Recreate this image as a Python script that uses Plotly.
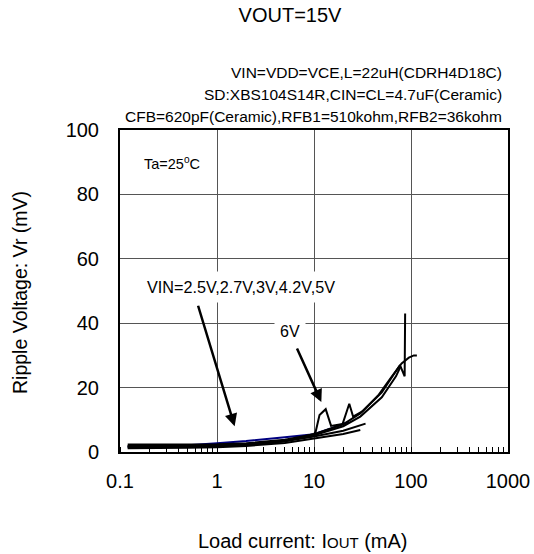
import math
import plotly.graph_objects as go

# ---- data (load current mA, ripple mV) ----
x_25 = [0.12, 0.2, 0.5, 1, 2, 5, 10, 20, 30]
y_25 = [1.2, 1.2, 1.3, 1.5, 1.9, 2.8, 4.2, 5.6, 6.8]
x_27 = [0.12, 0.2, 0.5, 1, 2, 5, 10, 20, 34]
y_27 = [1.5, 1.5, 1.6, 1.8, 2.2, 3.3, 4.8, 6.6, 8.8]
x_30 = [0.12, 0.2, 0.5, 1, 2, 5, 10, 15, 20, 30, 50, 70, 78]
y_30 = [1.9, 1.9, 2.0, 2.1, 2.4, 3.5, 5.2, 6.8, 8.0, 11.0, 17.0, 23.5, 26.5]
x_42 = [0.12, 0.2, 0.5, 1, 2, 5, 10, 15, 20, 30, 50, 77, 86, 87]
y_42 = [2.3, 2.3, 2.3, 2.4, 2.7, 3.8, 5.5, 7.2, 8.6, 12.0, 18.5, 27.0, 23.5, 43.0]
x_50 = [0.12, 0.2, 0.5, 1, 2, 5, 10, 15, 23]
y_50 = [1.6, 1.7, 2.1, 2.7, 3.4, 4.6, 5.5, 7.3, 9.4]
x_60 = [0.12, 0.2, 0.5, 1, 2, 5, 10, 10.4, 11.4, 13.2, 15, 19.7, 23.1, 25.3,
        31.5, 46.6, 63.6, 80, 95, 107, 115]
y_60 = [1.8, 1.8, 1.8, 1.9, 2.2, 3.3, 5.6, 6.3, 11.5, 13.3, 8.1, 8.7, 15.0, 11.0,
        12.6, 17.8, 23.5, 27.5, 29.3, 30.0, 30.0]

x_ticks = [0.1, 1, 10, 100, 1000]
x_tick_labels = ["0.1", "1", "10", "100", "1000"]
y_ticks = [0, 20, 40, 60, 80, 100]

FONT = "Liberation Sans, Arial, sans-serif"

fig = go.Figure()
fig.add_trace(go.Scatter(x=x_50, y=y_50, mode="lines",
                         line=dict(color="#000080", width=2), name="5V"))
for xs, ys, nm in [(x_25, y_25, "2.5V"), (x_27, y_27, "2.7V"), (x_30, y_30, "3V"),
                   (x_42, y_42, "4.2V"), (x_60, y_60, "6V")]:
    fig.add_trace(go.Scatter(x=xs, y=ys, mode="lines",
                             line=dict(color="black", width=2), name=nm))

fig.update_layout(
    width=534, height=554,
    margin=dict(l=120, r=26, t=130, b=102),
    paper_bgcolor="white", plot_bgcolor="white",
    showlegend=False,
    font=dict(family=FONT, color="black"),
    title=dict(text="VOUT=15V", x=290 / 534, xanchor="center",
               y=1 - 15 / 554, yanchor="middle", yref="container",
               font=dict(size=20, family=FONT, color="black")),
)

fig.update_xaxes(
    type="log", range=[-1, 3], automargin=False,
    tickvals=x_ticks, ticktext=x_tick_labels,
    ticks="", tickfont=dict(size=20, family=FONT),
    ticklabelstandoff=10,
    showgrid=True, gridcolor="#555555", gridwidth=1,
    showline=True, linecolor="black", linewidth=2, mirror=True,
    minor=dict(ticks="inside", ticklen=5, tickcolor="black", tickwidth=1,
               dtick="D1", showgrid=False),
    zeroline=False,
)
fig.update_yaxes(
    range=[0, 100], tickvals=y_ticks, automargin=False,
    ticks="", tickfont=dict(size=20, family=FONT),
    ticklabelstandoff=15,
    showgrid=True, gridcolor="#555555", gridwidth=1,
    showline=True, linecolor="black", linewidth=2, mirror=True,
    zeroline=False,
)

def px2paper_x(px):
    return (px - 120) / 388

def py2paper_y(py):
    return (452 - py) / 322

header = ["VIN=VDD=VCE,L=22uH(CDRH4D18C)",
          "SD:XBS104S14R,CIN=CL=4.7uF(Ceramic)",
          "CFB=620pF(Ceramic),RFB1=510kohm,RFB2=36kohm"]
for i, t in enumerate(header):
    fig.add_annotation(text=t, xref="paper", yref="paper",
                       x=px2paper_x(504), y=py2paper_y(72 + 22 * i),
                       xanchor="right", yanchor="middle", showarrow=False,
                       font=dict(size=15.5, family=FONT, color="black"))

# axis titles
fig.add_annotation(text="Load current: I<span style='font-size:15px'>OUT</span> (mA)",
                   xref="paper", yref="paper",
                   x=px2paper_x(303), y=py2paper_y(541),
                   xanchor="center", yanchor="middle", showarrow=False,
                   font=dict(size=20, family=FONT, color="black"))
fig.add_annotation(text="Ripple Voltage: Vr (mV)", textangle=-90,
                   xref="paper", yref="paper",
                   x=px2paper_x(20), y=py2paper_y(293),
                   xanchor="center", yanchor="middle", showarrow=False,
                   font=dict(size=19.5, family=FONT, color="black"))

# in-plot labels
fig.add_annotation(text="Ta=25<sup>o</sup>C", xref="x", yref="y",
                   x=math.log10(0.34), y=89.7, showarrow=False,
                   font=dict(size=14.5, family=FONT, color="black"))

# arrows
fig.add_annotation(text="", xref="x", yref="y", x=math.log10(1.52), y=8.0,
                   ax=-37, ay=-122, showarrow=True, arrowhead=2, arrowsize=1,
                   arrowwidth=2.5, arrowcolor="black")
fig.add_annotation(text="", xref="x", yref="y", x=math.log10(11.9), y=15.5,
                   ax=-25, ay=-55, showarrow=True, arrowhead=2, arrowsize=1,
                   arrowwidth=2.5, arrowcolor="black")

fig.add_annotation(text="VIN=2.5V,2.7V,3V,4.2V,5V", xref="x", yref="y",
                   x=math.log10(1.76), y=51.2, showarrow=False,
                   bgcolor="white", borderpad=6,
                   font=dict(size=16.2, family=FONT, color="black"))
fig.add_annotation(text="6V", xref="x", yref="y",
                   x=math.log10(5.6), y=37.3, showarrow=False,
                   bgcolor="white", borderpad=5,
                   font=dict(size=16, family=FONT, color="black"))

fig.write_html("out.html")
